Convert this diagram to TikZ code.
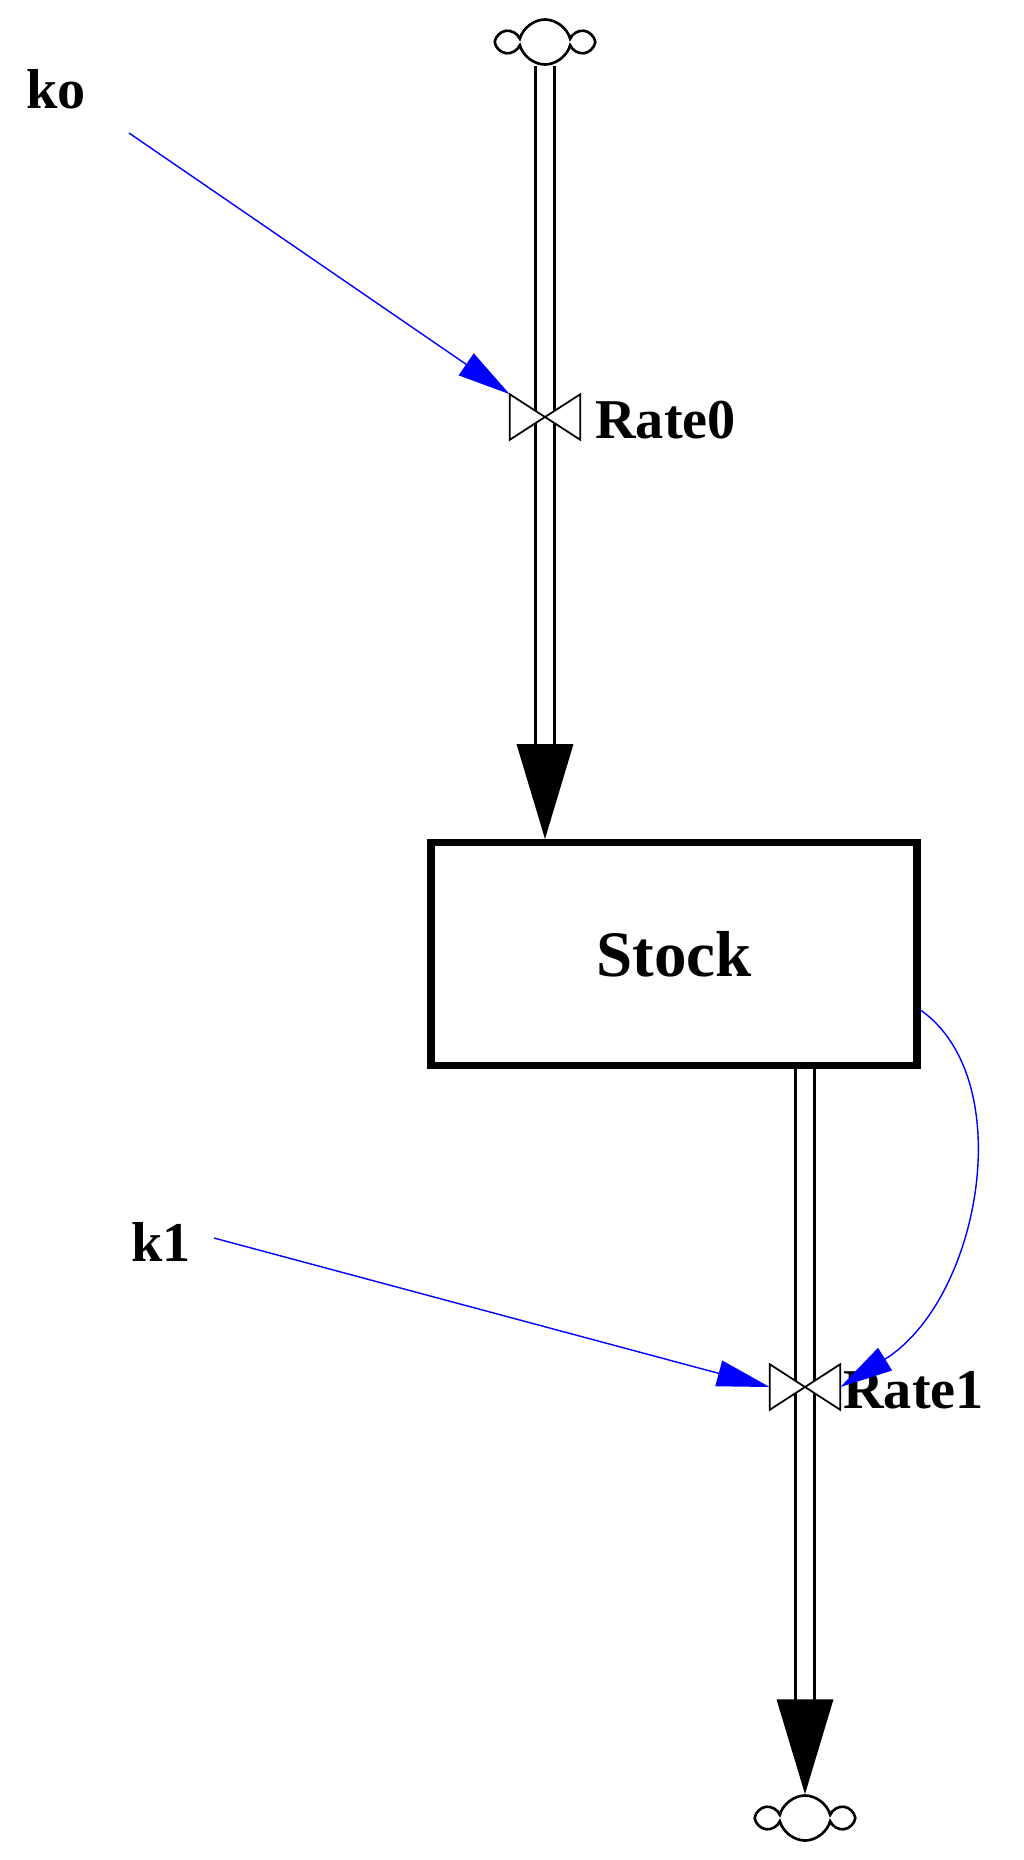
\documentclass[tikz,border=0pt]{standalone}
\usepackage{fontspec}
\setmainfont{Liberation Serif}
\usetikzlibrary{arrows.meta,shapes.symbols}
\definecolor{linkblue}{HTML}{0000FF}

\begin{document}
\begin{tikzpicture}[x=0.02cm,y=-0.02cm,
    lbl/.style={font=\fontsize{32}{36}\selectfont\bfseries,inner sep=0pt},
    cloudy/.style={cloud,cloud puffs=6,aspect=2.2,draw,line width=1.5pt,minimum width=90*0.02cm,minimum height=45*0.02cm,inner sep=0pt},
    flow/.style={double distance=9pt,line width=1.6pt,-{Triangle[width=32pt,length=54pt]}},
    link/.style={draw=linkblue,line width=0.8pt,-{Triangle[width=15pt,length=30pt,fill=linkblue]}},
    valve/.style={minimum width=70*0.02cm,minimum height=45*0.02cm,inner sep=0pt}]
    \useasboundingbox (0,0) rectangle (1024,1860);

    % Nodes
    \node[cloudy] (src) at (545,42) {};
    \node[cloudy] (sink) at (805,1818) {};
    \node[draw,line width=4pt,minimum width=486*0.02cm,minimum height=223*0.02cm,
          font=\fontsize{37}{42}\selectfont\bfseries] (stock) at (674,954) {Stock};
    \node[valve] (rate0) at (545,417) {};
    \node[valve] (rate1) at (805,1387) {};
    \node[lbl,anchor=west] (rate0l) at (595,420) {Rate0};
    \node[lbl,anchor=west] (rate1l) at (843,1390) {Rate1};
    \node[lbl] (ko) at (56,89) {ko};
    \node[lbl] (k1) at (161,1242) {k1};
    \coordinate (stocktop) at (rate0 |- stock.north);
    \coordinate (stockbot) at (rate1 |- stock.south);

    % Flows
    \draw[flow] (src.south) -- (stocktop);
    \draw[flow] (stockbot) -- (sink.north);
    \foreach \v in {rate0,rate1}
        \draw[line width=1pt,fill=white] (\v.north west) -- (\v.south east) -- (\v.north east) -- (\v.south west) -- cycle;

    % Links
    \draw[link] (129,133) -- (rate0.north west);
    \draw[link] (214,1238) -- (rate1.west);
    \draw[link] (stock.east) ++(0,56) .. controls (1020,1080) and (980,1300) .. (rate1.east);
\end{tikzpicture}
\end{document}
